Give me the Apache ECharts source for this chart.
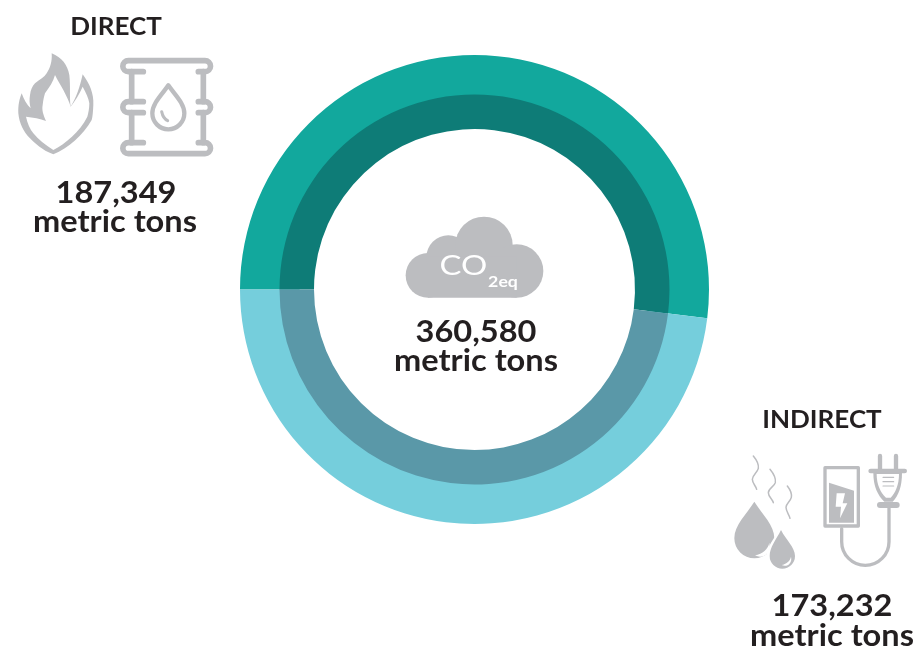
<!DOCTYPE html>
<html><head><meta charset="utf-8">
<style>html,body{margin:0;padding:0;background:#fff}#c{width:916px;height:651px}</style>
<script src="https://cdn.jsdelivr.net/npm/echarts@6/dist/echarts.min.js"></script>
</head><body><div id="c"></div>
<script>
const categories = ['DIRECT', 'INDIRECT'];
const values = [187349, 173232];
const totalValue = 360580;
const unit = 'metric tons';
const outerColors = ['#12A89D', '#75CEDC'];
const innerColors = ['#0E7C77', '#5A98A8'];
const GRAY = '#BCBDC0', INK = '#231F20';
const FONT = 'Lato, "Open Sans", sans-serif';
const fmt = v => v.toLocaleString('en-US');
const chart = echarts.init(document.getElementById('c'), null, {renderer: 'canvas'});
const ringData = colors => categories.map((n, i) => ({name: n, value: values[i], itemStyle: {color: colors[i]}}));
const ring = (radius, colors) => ({
  type: 'pie', center: [474.5, 289.5], radius, startAngle: 180, clockwise: true,
  silent: true, label: {show: false}, labelLine: {show: false}, animation: false,
  data: ringData(colors)
});
let pathId = 0;
const pathType = d => { const name = 'iconPath' + (pathId++); echarts.graphic.registerShape(name, echarts.graphic.extendPath(d, {})); return name; };
const txt = (s, x, y, size, weight) => ({type: 'text', x, y, scaleX: 1.085, silent: true,
  style: {text: s, fill: INK, font: `${weight} ${size}px ${FONT}`, textAlign: 'center', textVerticalAlign: 'middle'}});
const stroke = (d, w, c) => ({type: pathType(d), shape: {}, style: {fill: 'none', stroke: c || GRAY, lineWidth: w, lineCap: 'round', lineJoin: 'round'}});
const fill = (d, c) => ({type: pathType(d), shape: {}, style: {fill: c || GRAY}});
const grp = (x, y, children) => ({type: 'group', x, y, scaleX: 1/3, scaleY: 1/3, silent: true, children});
const circ = (cx, cy, r, c) => ({type: 'circle', shape: {cx, cy, r}, style: {fill: c || GRAY}});

const directIcons = grp(0, 0, [
  fill('M155 160 C185 172 203 195 208 225 C212 260 208 290 212 320 C228 295 240 260 248 223 C268 250 282 280 280 315 C279 335 278 350 275 360 C250 405 205 445 160 463 C125 450 105 430 90 415 C70 395 58 370 55 340 C54 315 58 298 65 280 C72 298 80 315 92 325 C88 310 88 298 90 285 C92 270 97 258 105 250 C120 238 133 232 140 220 C150 205 157 185 155 160 Z'),
  fill('M78 350 C100 352 120 356 138 363 C130 345 125 330 128 315 C130 298 132 290 135 280 C148 262 160 245 165 225 C172 240 182 255 190 270 C200 290 208 305 212 320 C225 303 238 283 248 260 C258 278 266 295 268 310 C268 325 265 340 262 350 C240 395 195 432 160 450 C135 435 115 418 100 400 C90 388 82 370 78 350 Z', '#fff'),
  stroke('M430 215 H385 A16.5 16.5 0 0 1 385 182 H615 A16.5 16.5 0 0 1 615 215 H595', 17),
  stroke('M430 305 H385 A16.5 16.5 0 0 0 385 338 H430', 17),
  stroke('M595 305 H615 A16.5 16.5 0 0 1 615 338 H595', 17),
  stroke('M430 428 H385 A16.5 16.5 0 0 0 385 461 H615 A16.5 16.5 0 0 0 615 428 H595', 17),
  stroke('M395 215 V305 M395 338 V428 M610 215 V305 M610 338 V428', 17),
  stroke('M505 256 C525 285 553 310 553 340 A48 48 0 0 1 457 340 C457 310 485 285 505 256 Z', 13),
  stroke('M485 335 C488 350 494 358 503 362', 9)
]);
const indirectIcons = grp(716, 400, [
  fill('M115 305 C140 345 175 375 175 415 A60 60 0 0 1 55 415 C55 375 90 345 115 305 Z'),
  fill('M160 428 C156 448 140 462 117 466 C140 478 166 462 160 428 Z', '#fff'),
  fill('M195 380 C215 415 244 440 244 468 A46 46 0 0 1 152 468 C152 440 175 415 195 380 Z', '#fff'),
  fill('M195 390 C210 420 237 442 237 468 A38 38 0 0 1 161 468 C161 442 180 420 195 390 Z'),
  fill('M225 470 C222 484 210 492 197 495 C212 503 230 490 225 470 Z', '#fff'),
  stroke('M112 168 C122 180 129 192 127 205 C124 218 109 225 109 238 C109 250 120 258 122 268', 4.5),
  stroke('M162 208 C172 220 180 235 178 248 C175 260 157 265 157 278 C157 290 170 298 172 308', 4.5),
  stroke('M214 258 C222 268 228 280 226 292 C223 305 210 310 210 322 C210 335 220 345 222 355', 4.5),
  stroke('M327 203 H427 V378 H327 Z', 10),
  fill('M339 248 L414 272 V368 H339 Z'),
  fill('M362 280 H387 L380 310 H394 L372 355 L375 320 H359 Z', '#fff'),
  stroke('M492 168 V208 M540 168 V208', 13),
  stroke('M464 213 H566', 14),
  fill('M472 218 H558 C558 260 548 285 530 305 H505 C485 285 472 260 472 218 Z'),
  fill('M482 222 H549 C549 255 538 278 524 293 H510 C494 278 482 255 482 222 Z', '#fff'),
  stroke('M492 315 H542', 18),
  stroke('M501 232 H533 M501 245 H533 M501 258 H533', 3.5),
  stroke('M519 325 V425 A71 71 0 0 1 377 425 V386', 10)
]);
const cloud = grp(380, 200, [
  circ(144, 226, 67), circ(205, 172, 66), circ(312, 136, 86), circ(410, 213, 80),
  fill('M144 170 H410 V293 H144 Z'),
  {type: 'text', x: 250, y: 198, scaleX: 1.2, style: {text: 'CO', fill: '#fff', font: `400 82px ${FONT}`, textAlign: 'center', textVerticalAlign: 'middle'}},
  {type: 'text', x: 369, y: 245, scaleX: 1.18, style: {text: '2eq', fill: '#fff', font: `700 45px ${FONT}`, textAlign: 'center', textVerticalAlign: 'middle'}}
]);

chart.setOption({
  animation: false,
  backgroundColor: '#fff',
  series: [ring([175, 234.5], outerColors), ring([160.5, 195], innerColors)],
  graphic: {elements: [
    directIcons, indirectIcons, cloud,
    txt(categories[0], 116, 27, 24, 700),
    txt(fmt(values[0]), 116, 193, 30, 700),
    txt(unit, 115, 222, 30, 700),
    txt(categories[1], 822, 420, 24, 700),
    txt(fmt(values[1]), 832, 606, 30, 700),
    txt(unit, 832, 636, 30, 700),
    txt(fmt(totalValue), 476, 332, 30, 700),
    txt(unit, 476, 361, 30, 700)
  ]}
});
</script></body></html>
